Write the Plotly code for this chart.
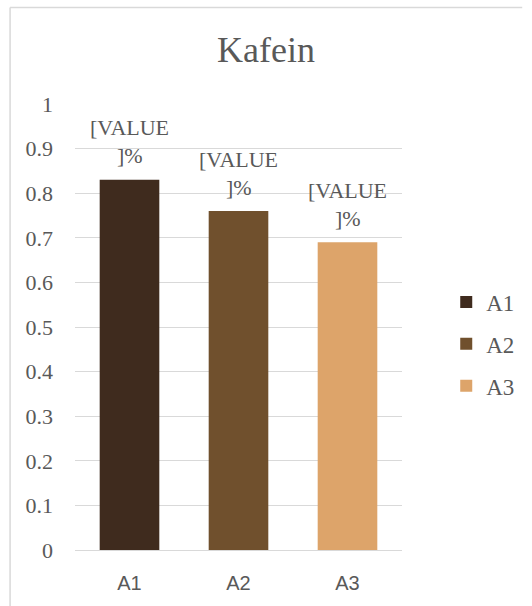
import plotly.graph_objects as go

# Caffeine content per sample
categories = ["A1", "A2", "A3"]
values = [0.83, 0.76, 0.69]
colors = ["#3F2B1E", "#70502D", "#DDA46A"]
label_lines = ["[VALUE", "]%"]

W, H = 532, 606
L, R, T, B = 75, 117, 104, 56
plot_w = W - L - R
plot_h = H - T - B

serif = "Times New Roman, Liberation Serif, DejaVu Serif, serif"
sans = "Liberation Sans"
grey = "#595959"

fig = go.Figure()
for cat, val, col in zip(categories, values, colors):
    fig.add_trace(go.Bar(
        x=[cat], y=[val], name=cat,
        marker=dict(color=col, line=dict(width=0)),
        width=0.547,
        legendgroup=cat,
        hoverinfo="x+y",
    ))

# Two-line data labels above each bar
annotations = []
for cat, val in zip(categories, values):
    for line, shift in zip(label_lines, [52, 24]):
        annotations.append(dict(
            x=cat, y=val, xref="x", yref="y", text=line, showarrow=False,
            xanchor="center", yanchor="middle", yshift=shift,
            font=dict(family=serif, size=22, color=grey),
        ))

def px_x(p):
    return (p - L) / plot_w

def px_y(p):
    return (H - B - p) / plot_h

# Chart frame (top and left edges)
frame = dict(color="#D9D9D9", width=1.5)
shapes = [
    dict(type="line", xref="paper", yref="paper",
         x0=px_x(7.5), x1=px_x(540), y0=px_y(7.5), y1=px_y(7.5), line=frame),
    dict(type="line", xref="paper", yref="paper",
         x0=px_x(7.5), x1=px_x(7.5), y0=px_y(7.5), y1=px_y(620), line=frame),
]

fig.update_layout(
    width=W, height=H,
    margin=dict(l=L, r=R, t=T, b=B),
    paper_bgcolor="white", plot_bgcolor="white",
    font=dict(family=serif, color=grey),
    barmode="overlay",
    title=dict(text="Kafein", x=0.5, xref="container", xanchor="center",
               y=1 - 49 / H, yref="container", yanchor="middle",
               font=dict(family=serif, size=36, color=grey)),
    showlegend=True,
    legend=dict(x=px_x(461), xanchor="left", y=px_y(344), yanchor="middle",
                font=dict(family=serif, size=23, color=grey),
                traceorder="grouped", tracegroupgap=9,
                itemwidth=30, bgcolor="rgba(0,0,0,0)"),
    shapes=shapes,
    annotations=annotations,
    xaxis=dict(type="category", categoryorder="array", categoryarray=categories,
               range=[-0.5, 2.5], showgrid=False, showline=False, zeroline=False,
               ticks="", ticklabelstandoff=19,
               tickfont=dict(family=sans, size=20, color=grey)),
    yaxis=dict(range=[0, 1], dtick=0.1, tick0=0, tickformat="~g",
               showgrid=True, gridcolor="#D9D9D9", gridwidth=1,
               zeroline=True, zerolinecolor="#D9D9D9", zerolinewidth=1,
               showline=False, ticks="", ticklabelstandoff=21,
               tickfont=dict(family=serif, size=22, color=grey)),
)

fig.write_html("out.html")
